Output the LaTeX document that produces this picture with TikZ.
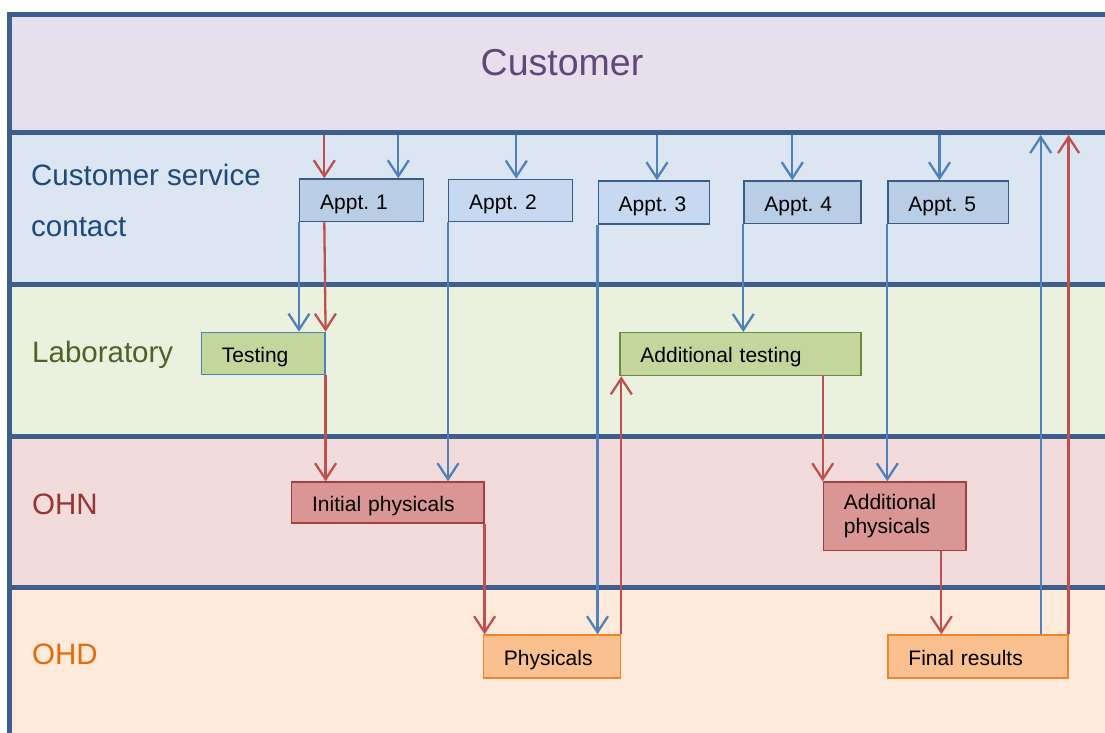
\documentclass[tikz,border=0pt]{standalone}
\usepackage{fontspec}
\setmainfont{Liberation Sans}
\usetikzlibrary{arrows.meta,calc}
\definecolor{laneA}{HTML}{E5E0EC}
\definecolor{laneB}{HTML}{DCE6F2}
\definecolor{laneC}{HTML}{EBF1DF}
\definecolor{laneD}{HTML}{F2DCDB}
\definecolor{laneE}{HTML}{FDEADA}
\definecolor{frameblue}{HTML}{3C5F8D}
\definecolor{arrred}{HTML}{C0504D}
\definecolor{arrblue}{HTML}{4F81BD}
\definecolor{txtA}{HTML}{5F497A}
\definecolor{txtB}{HTML}{1F497D}
\definecolor{txtC}{HTML}{4F6228}
\definecolor{txtD}{HTML}{943634}
\definecolor{txtE}{HTML}{E36C09}
\definecolor{apptfill}{HTML}{B9CDE5}
\definecolor{apptfillL}{HTML}{C6D9F1}
\definecolor{apptdraw}{HTML}{385D8A}
\definecolor{labfill}{HTML}{C3D69B}
\definecolor{labdraw}{HTML}{71893F}
\definecolor{ohnfill}{HTML}{D99694}
\definecolor{ohndraw}{HTML}{A5403D}
\definecolor{ohdfill}{HTML}{FAC090}
\definecolor{ohddraw}{HTML}{F0862A}
\tikzset{
  laneline/.style={draw=frameblue, line width=5pt},
  lanelabel/.style={anchor=base west, inner sep=0pt, font=\fontsize{29.5}{51}\selectfont},
  procbox/.style={draw, line width=1.3pt, anchor=north west, inner xsep=20.5pt, inner ysep=0pt,
     align=left, text=black, font=\fontsize{21}{24.3}\selectfont\frenchspacing},
  oneline/.style={text height=17.5pt, text depth=0pt},
  apptbox/.style={procbox, oneline, fill=apptfill, draw=apptdraw},
  labbox/.style={procbox, oneline, fill=labfill, draw=labdraw},
  ohnbox/.style={procbox, fill=ohnfill, draw=ohndraw},
  ohdbox/.style={procbox, oneline, fill=ohdfill, draw=ohddraw},
  redarr/.style={draw=arrred, line width=2.3pt, -{Straight Barb[length=16pt,width=21pt]}},
  bluearr/.style={draw=arrblue, line width=2.3pt, -{Straight Barb[length=16pt,width=21pt]}}
}
\begin{document}
\begin{tikzpicture}[x=1pt,y=-1pt]
\useasboundingbox (0,0) rectangle (1105,733);
% lanes
\fill[laneA] (9,15) rectangle (1105,133);
\fill[laneB] (9,133) rectangle (1105,284);
\fill[laneC] (9,284) rectangle (1105,436);
\fill[laneD] (9,436) rectangle (1105,587.5);
\fill[laneE] (9,587.5) rectangle (1105,733);
\draw[laneline] (9,12.5) -- (9,733);
\draw[laneline] (6.5,15) -- (1105,15);
\draw[laneline] (9,133) -- (1105,133);
\draw[laneline] (9,284) -- (1105,284);
\draw[laneline] (9,436) -- (1105,436);
\draw[laneline] (9,587.5) -- (1105,587.5);
% lane labels
\node[anchor=base, inner sep=0pt, text=txtA, font=\fontsize{37.5}{40}\selectfont] (lcust) at (562,75.7) {Customer};
\node[lanelabel, text=txtB] (lcs1) at (31,185) {Customer service};
\node[lanelabel, text=txtB] (lcs2) at (31,236) {contact};
\node[lanelabel, text=txtC] (llab) at (32,362.7) {Laboratory};
\node[lanelabel, text=txtD] (lohn) at (32,514.3) {OHN};
\node[lanelabel, text=txtE] (lohd) at (32,664.3) {OHD};
% boxes
\node[apptbox, text width=82.5pt, minimum height=42.7pt] (a1) at (299,178.3) {Appt. 1};
\node[apptbox, fill=apptfillL, text width=83pt, minimum height=42.3pt] (a2) at (448,178.7) {Appt. 2};
\node[apptbox, fill=apptfillL, text width=70.2pt, minimum height=43pt] (a3) at (597.5,180.3) {Appt. 3};
\node[apptbox, text width=76pt, minimum height=42.7pt] (a4) at (743.3,180.3) {Appt. 4};
\node[apptbox, text width=79.7pt, minimum height=42.7pt] (a5) at (887.3,180.3) {Appt. 5};
\node[labbox, draw=arrblue, text width=82.6pt, minimum height=42.3pt] (test) at (200.7,331.7) {Testing};
\node[labbox, text width=200pt, minimum height=43pt] (addtest) at (619.3,332) {Additional testing};
\node[ohnbox, oneline, text width=151.3pt, minimum height=41pt] (ip) at (291,481.3) {Initial physicals};
\node[ohnbox, text width=101.6pt, minimum height=68.7pt] (addphys) at (822.7,481.3) {Additional\\physicals};
\node[ohdbox, text width=96.3pt, minimum height=43pt] (phys) at (482.7,634.3) {Physicals};
\node[ohdbox, text width=139pt, minimum height=43pt] (final) at (887.3,634.3) {Final results};
% free ends on the top divider
\coordinate (t1) at (324.3,135);
\coordinate (t2) at (398.3,135);
\coordinate (t3) at (516.3,135);
\coordinate (t4) at (657,135);
\coordinate (t5) at (792.3,135);
\coordinate (t6) at (939.5,135);
\coordinate (u1) at (1040.7,135);
\coordinate (c19) at ([xshift=118.6pt]addphys.south west);
% arrows from Customer
\draw[redarr] (t1) -- (t1 |- a1.north);
\draw[bluearr] (t2) -- (t2 |- a1.north);
\draw[bluearr] (t3) -- (t3 |- a2.north);
\draw[bluearr] (t4) -- (t4 |- a3.north);
\draw[bluearr] (t5) -- (t5 |- a4.north);
\draw[bluearr] (t6) -- (t6 |- a5.north);
% flows
\draw[bluearr] (a1.south west) -- (a1.south west |- test.north);
\draw[redarr] (t1 |- a1.south) -- (test.north east);
\draw[redarr] (test.south east) -- (test.south east |- ip.north);
\draw[bluearr] (a2.south west) -- (a2.south west |- ip.north);
\draw[redarr] (ip.south east) -- (ip.south east |- phys.north);
\draw[bluearr] (a3.south west) -- (a3.south west |- phys.north);
\draw[redarr] (phys.north east) -- (phys.north east |- addtest.south);
\draw[bluearr] (a4.south west) -- (a4.south west |- addtest.north);
\draw[redarr] (addphys.north west |- addtest.south) -- (addphys.north west);
\draw[bluearr] (a5.south west) -- (a5.south west |- addphys.north);
\draw[redarr] (c19) -- (c19 |- final.north);
% back to Customer
\draw[bluearr] (u1 |- final.north) -- (u1);
\draw[redarr] (final.north east) -- (final.north east |- u1);
\end{tikzpicture}
\end{document}
